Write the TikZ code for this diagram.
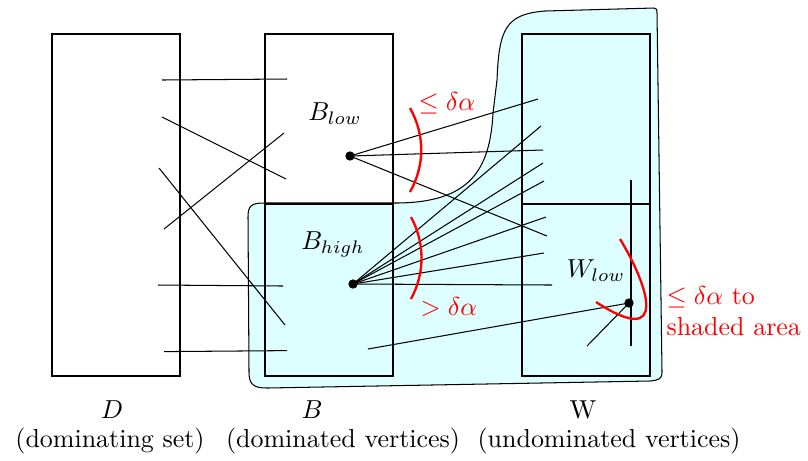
\documentclass[tikz,border=0pt]{standalone}
\usepackage{amssymb}
\definecolor{shade}{RGB}{221,255,255}
\begin{document}
\begin{tikzpicture}[x=0.385pt,y=-0.385pt,
  box/.style={draw,line width=0.9pt},
  edge/.style={line width=0.4pt},
  dotnode/.style={circle,fill=black,inner sep=0pt,minimum size=3.6pt},
  redarc/.style={red,line width=0.9pt},
  redlbl/.style={red,inner sep=0pt},
  lbl/.style={inner sep=0pt}]
\useasboundingbox (0,0) rectangle (808,460);

% shaded area
\path[fill=shade,draw=black,line width=0.4pt]
  (248,217) .. controls (248,206) and (251,203) .. (264,203)
  -- (395,203) .. controls (470,203) and (490,170) .. (493,113)
  -- (497,80) .. controls (499,30) and (505,14) .. (545,11)
  -- (654,8) .. controls (657,8) and (657,10) .. (657,13)
  -- (662,372) .. controls (662,379) and (659,380) .. (650,381)
  -- (267,388) .. controls (253,388) and (249,384) .. (249,372) -- cycle;

% boxes
\draw[box] (52,34) rectangle (180,376);
\draw[box] (265,34) rectangle (393,376);
\draw[box] (265,204) -- (393,204);
\draw[box] (522,34) rectangle (650,376);
\draw[box] (522,204) -- (650,204);

% endpoints
\coordinate (d1) at (162,80);  \coordinate (b1) at (287,79);
\coordinate (d2) at (162,117); \coordinate (b2) at (286,179);
\coordinate (d3) at (164,229); \coordinate (b3) at (284,133);
\coordinate (d4) at (159,168); \coordinate (b4) at (285,325);
\coordinate (d5) at (158,285); \coordinate (b5) at (283,286);
\coordinate (d6) at (164,351.6); \coordinate (b6) at (287,350.6);
\draw[edge] (d1) -- (b1);
\draw[edge] (d2) -- (b2);
\draw[edge] (d3) -- (b3);
\draw[edge] (d4) -- (b4);
\draw[edge] (d5) -- (b5);
\draw[edge] (d6) -- (b6);

\node[dotnode] (blow) at (350,156) {};
\node[dotnode] (bhigh) at (353,284) {};
\node[dotnode] (wlow) at (629,303) {};

\coordinate (w1) at (538,99);
\coordinate (w2) at (543,150);
\coordinate (w3) at (547,236);
\draw[edge] (blow.center) -- (w1);
\draw[edge] (blow.center) -- (w2);
\draw[edge] (blow.center) -- (w3);

\coordinate (h1) at (541,126);
\coordinate (h2) at (543,163);
\coordinate (h3) at (544,181);
\coordinate (h4) at (546,217);
\coordinate (h5) at (544,253);
\coordinate (h6) at (552,285);
\foreach \h in {h1,h2,h3,h4,h5,h6} \draw[edge] (bhigh.center) -- (\h);

\coordinate (bb) at (368,349);
\draw[edge] (bb) -- (wlow.center);
\coordinate (wl1) at (587,346);
\draw[edge] (wlow.center) -- (wl1);
\coordinate (vt) at (631,180);
\coordinate (vb) at (631,346);
\draw[edge] (vt) -- (vb);

% red arcs
\coordinate (ra1) at (410,108); \coordinate (ra2) at (410,192);
\draw[redarc] (ra1) .. controls (425,135) and (425,165) .. (ra2);
\coordinate (rb1) at (411,217); \coordinate (rb2) at (411,299);
\draw[redarc] (rb1) .. controls (425,243) and (425,273) .. (rb2);
\coordinate (rc1) at (620,239); \coordinate (rc2) at (596,302);
\draw[redarc] (rc1) .. controls (648,285) and (670,350) .. (rc2);

% labels
\node[lbl] (Blow) at (335,114) {$B_{low}$};
\node[lbl] (Bhigh) at (333,244) {$B_{high}$};
\node[lbl] (Wlow) at (596,271) {$W_{low}$};
\node[redlbl,anchor=west] (le) at (418,103) {$\leq\delta\alpha$};
\node[redlbl,anchor=west] (gt) at (420,307) {$>\delta\alpha$};
\node[redlbl,anchor=north west,align=left] (sh) at (666,286) {$\leq\delta\alpha$ to\\shaded area};

\node[lbl] (Dl) at (112,410) {$D$};
\node[lbl] (Bl) at (312,410) {$B$};
\node[lbl] (Wl) at (583,410) {W};
\node[lbl] (Dd) at (110,441) {(dominating set)};
\node[lbl] (Bd) at (343,441) {(dominated vertices)};
\node[lbl] (Wd) at (609,441) {(undominated vertices)};
\end{tikzpicture}
\end{document}
